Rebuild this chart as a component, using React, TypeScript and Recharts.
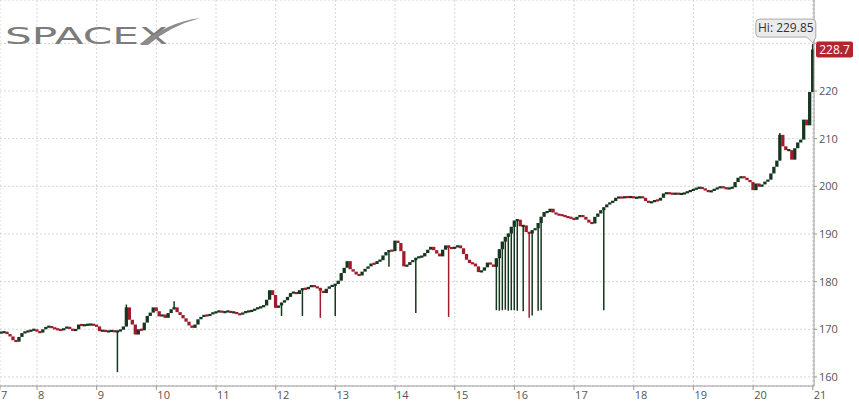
import React from "react";
import {
  ComposedChart,
  Bar,
  XAxis,
  YAxis,
  CartesianGrid,
  ReferenceLine,
  ReferenceDot,
} from "recharts";

// closes every 0.05 day, each list starts at the day's open (day 7 starts at 7.40)
const day7 = [169.3, 169.5, 169.0, 168.5, 167.7, 167.4, 168.4, 169.2, 169.5, 169.6, 169.8, 170.0];
const day8 = [169.5, 169.3, 170.0, 170.5, 170.6, 170.3, 170.1, 169.9, 169.8, 170.2, 170.5, 170.1, 169.7, 170.0, 171.0, 170.8, 170.9, 171.0, 171.0, 170.9];
const day9 = [170.6, 169.6, 169.8, 169.5, 169.6, 169.7, 169.5, 169.6, 169.9, 170.6, 174.6, 172.0, 171.0, 168.9, 170.0, 169.8, 171.4, 172.8, 173.5, 174.6];
const day10 = [173.8, 172.7, 173.1, 172.4, 173.4, 174.2, 174.6, 173.6, 173.0, 172.3, 171.6, 170.8, 170.3, 171.0, 172.1, 172.6, 173.0, 172.8, 173.2, 173.5];
const day11 = [173.6, 173.9, 173.5, 173.7, 173.8, 173.5, 173.6, 173.2, 173.1, 173.5, 173.7, 173.8, 173.9, 174.3, 174.5, 174.7, 175.0, 176.2, 178.2, 177.2];
const day12 = [174.5, 175.0, 175.6, 176.1, 176.8, 177.6, 177.8, 177.4, 178.2, 178.6, 178.4, 178.9, 179.2, 178.9, 178.7, 178.1, 177.6, 178.5, 179.0, 179.2];
const day13 = [179.5, 180.2, 181.8, 182.9, 184.3, 182.6, 182.1, 181.5, 181.3, 182.1, 182.7, 183.2, 183.8, 183.7, 184.3, 184.5, 185.5, 186.2, 186.6, 186.4];
const day14 = [188.6, 188.1, 186.4, 183.2, 183.5, 184.1, 184.5, 185.0, 185.2, 185.3, 186.0, 186.7, 187.3, 186.6, 185.9, 185.3, 186.7, 187.6, 187.1, 187.0];
const day15 = [187.2, 187.6, 187.0, 185.8, 184.6, 183.9, 183.8, 183.2, 182.0, 182.3, 183.0, 184.0, 183.6, 183.1, 184.9, 186.8, 188.4, 189.4, 190.1, 191.5];
const day16 = [192.8, 193.0, 191.6, 191.8, 190.4, 190.1, 190.8, 191.2, 192.3, 193.6, 194.6, 194.6, 195.3, 194.5, 194.1, 194.0, 193.9, 193.6, 193.5, 193.3];
const day17 = [193.0, 193.6, 193.9, 193.6, 193.0, 192.4, 192.2, 193.6, 194.3, 195.0, 195.6, 196.2, 196.6, 196.9, 197.6, 197.7, 197.6, 197.8, 197.7, 197.8];
const day18 = [197.6, 197.6, 197.8, 197.6, 196.9, 196.6, 196.7, 197.1, 197.0, 197.6, 198.5, 198.6, 198.5, 198.4, 198.5, 198.4, 198.4, 198.6, 198.9, 199.1];
const day19 = [199.4, 199.6, 199.8, 199.5, 199.2, 198.8, 199.1, 199.4, 199.7, 199.9, 199.7, 199.5, 199.6, 199.8, 200.9, 201.8, 202.0, 201.8, 201.3, 200.9];
const day20 = [199.2, 200.6, 199.9, 200.4, 201.0, 201.4, 202.7, 204.1, 205.4, 210.8, 208.4, 207.6, 207.6, 205.6, 208.0, 209.2, 209.8, 214.0, 212.8, 219.8];
const day21 = [228.7];

// long wicks: [time, price]
const lowWicks: [number, number][] = [
  [9.35, 161.0], [12.1, 172.8], [12.45, 172.8], [12.75, 172.4], [13.0, 172.8],
  [13.9, 183.1], [14.35, 173.4], [14.9, 172.6], [15.7, 174.0], [15.75, 173.9],
  [15.8, 174.0], [15.85, 174.1], [15.9, 173.9], [15.95, 174.0], [16.0, 174.0],
  [16.05, 173.9], [16.15, 173.8], [16.25, 172.4], [16.3, 172.9], [16.4, 173.9],
  [16.45, 174.0], [17.5, 174.0],
];
const highWicks: [number, number][] = [
  [9.5, 175.2], [10.3, 175.9], [20.45, 211.2], [21.0, 229.85],
];

const sessions: [number, number[]][] = [
  [7.4, day7], [8, day8], [9, day9], [10, day10], [11, day11], [12, day12], [13, day13],
  [14, day14], [15, day15], [16, day16], [17, day17], [18, day18], [19, day19], [20, day20], [21, day21],
];

const dayTicks = [7.38, 8, 9, 10, 11, 12, 13, 14, 15, 16, 17, 18, 19, 20, 21];
const priceTicks = [160, 170, 180, 190, 200, 210, 220, 230];
const lastPrice = 228.7;
const sessionHigh = 229.85;

const UP = "#15361f";
const DOWN = "#a11c2a";
const FONT = "'Open Sans', 'DejaVu Sans', sans-serif";

const k2 = (t: number) => t.toFixed(2);
const lowMap = new Map(lowWicks.map(([t, v]) => [k2(t), v]));
const highMap = new Map(highWicks.map(([t, v]) => [k2(t), v]));

type Row = { t: number; open: number; close: number; high: number; low: number };

function buildRows(): Row[] {
  const rows: Row[] = [];
  let prev: number | null = null;
  sessions.forEach(([start, closes]) => {
    closes.forEach((close, i) => {
      const t = +(start + i * 0.05).toFixed(2);
      const open = prev ?? close;
      const hi = highMap.get(k2(t));
      const lo = lowMap.get(k2(t));
      rows.push({
        t,
        open,
        close,
        high: Math.max(open, close, hi ?? -Infinity),
        low: Math.min(open, close, lo ?? Infinity),
      });
      prev = close;
    });
  });
  return rows;
}

const rows = buildRows();

function Candle(props: any) {
  const { x, y, width, height, payload } = props;
  if (!payload || x == null || y == null) return null;
  const { open, close, high, low } = payload as Row;
  const top = Math.min(y, y + height);
  const h = Math.abs(height);
  const k = high > low ? h / (high - low) : 0;
  const color = close < open ? DOWN : UP;
  const realH = Math.abs(open - close) * k;
  const bodyH = Math.max(2.2, realH);
  const bodyTop = top + (high - Math.max(open, close)) * k - (bodyH - realH) / 2;
  const cx = x + width / 2;
  return (
    <g>
      {h > realH + 0.5 && (
        <line x1={cx} x2={cx} y1={top} y2={top + h} stroke={color} strokeWidth={1.5} />
      )}
      <rect x={x - 0.3} y={bodyTop} width={width + 0.6} height={bodyH} fill={color} />
    </g>
  );
}

function DayTick(props: any) {
  const { x, y, payload } = props;
  return (
    <text
      x={Math.max(x + 1, 0)}
      y={y}
      dy="0.71em"
      textAnchor="start"
      fill="#555"
      fontSize={11}
      fontFamily={FONT}
    >
      {Math.floor(payload.value)}
    </text>
  );
}

function PriceBadge(props: any) {
  const vb = props.viewBox;
  if (!vb) return null;
  const x = vb.x + vb.width + 2;
  const y = vb.y;
  return (
    <g>
      <rect x={x} y={y - 8} width={37} height={16} rx={2} fill="#b1262e" />
      <text x={x + 18.5} y={y + 4} textAnchor="middle" fill="#fff" fontSize={12} fontFamily={FONT}>
        {lastPrice}
      </text>
    </g>
  );
}

function HighCallout(props: any) {
  const { cx, cy } = props;
  if (cx == null || cy == null) return null;
  const l = cx - 57;
  const r = cx + 3;
  const t = cy - 25;
  const b = cy - 7;
  const d = `M${l + 4},${t} H${r - 4} Q${r},${t} ${r},${t + 4} V${b} L${cx},${cy - 1} L${r - 9},${b} H${l + 4} Q${l},${b} ${l},${b - 4} V${t + 4} Q${l},${t} ${l + 4},${t} Z`;
  return (
    <g>
      <path d={d} fill="#ebebeb" stroke="#a9a9a9" strokeWidth={1} />
      <text x={(l + r) / 2} y={t + 13} textAnchor="middle" fill="#333" fontSize={12} fontFamily={FONT}>
        {`Hi: ${sessionHigh}`}
      </text>
    </g>
  );
}

function Logo() {
  return (
    <svg width={210} height={60} style={{ position: "absolute", left: 0, top: 0, pointerEvents: "none" }}>
      <text
        x={5}
        y={44}
        textLength={163}
        lengthAdjust="spacingAndGlyphs"
        fill="#7c7c7c"
        fontSize={23}
        fontFamily="'DejaVu Sans', sans-serif"
      >
        SPACEX
      </text>
      <path d="M140,45 Q168,22 200,18 Q170,26 148,45 Z" fill="#8c8c8c" />
    </svg>
  );
}

export default function App() {
  return (
    <div style={{ position: "absolute", left: 0, top: 0, width: 859, height: 405, background: "#fff" }}>
      <ComposedChart width={859} height={405} data={rows} margin={{ top: 0, right: 0, bottom: 0, left: 0 }}>
        <CartesianGrid stroke="#d6d6d6" strokeDasharray="2 2" />
        <XAxis
          dataKey="t"
          type="number"
          domain={[7.38, 21.02]}
          allowDataOverflow
          ticks={dayTicks}
          interval={0}
          height={19}
          tickSize={4}
          tickMargin={1}
          stroke="#9a9a9a"
          tick={<DayTick />}
        />
        <YAxis
          orientation="right"
          width={45}
          domain={[158.1, 239.1]}
          allowDataOverflow
          ticks={priceTicks}
          interval={0}
          tickSize={3}
          tickMargin={2}
          stroke="#9a9a9a"
          tick={{ fill: "#555", fontSize: 11, fontFamily: FONT }}
          tickFormatter={(v: number) => (v >= 230 ? "" : String(v))}
        />
        <Bar
          dataKey={(d: Row) => [d.low, d.high]}
          barSize={3}
          shape={<Candle />}
          isAnimationActive={false}
        />
        <ReferenceLine y={lastPrice} stroke="none" ifOverflow="visible" label={<PriceBadge />} />
        <ReferenceDot x={21} y={sessionHigh} r={0} ifOverflow="visible" shape={<HighCallout />} />
      </ComposedChart>
      <Logo />
    </div>
  );
}
